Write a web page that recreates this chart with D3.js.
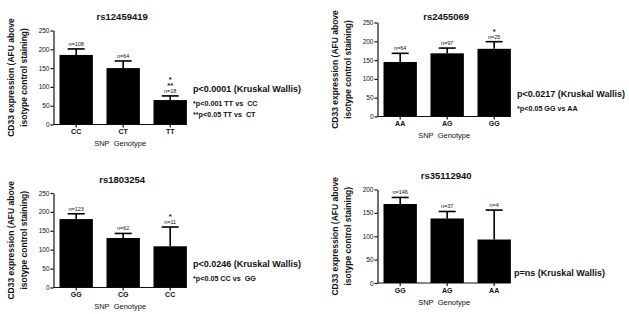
<!DOCTYPE html>
<html>
<head>
  <meta charset="utf-8">
  <title>CD33 expression by SNP genotype</title>
  <script src="https://d3js.org/d3.v7.min.js"></script>
  <style>
    body { margin: 0; background: #fff; }
    svg { display: block; font-family: "Liberation Sans", Arial, sans-serif; }
  </style>
</head>
<body>
  <svg id="chart" width="629" height="314"></svg>

  <script>
    // values
    let titles = ["rs12459419", "rs2455069", "rs1803254", "rs35112940"];
    let genotypes = [["CC", "CT", "TT"], ["AA", "AG", "GG"], ["GG", "CG", "CC"], ["GG", "AG", "AA"]];
    let means = [[185, 150, 65], [145, 168, 180], [181, 131, 109], [169, 138, 93]];
    let upperErr = [[201, 169, 76], [168, 182, 199], [195, 143, 160], [183, 153, 156]];
    let nCounts = [[108, 64, 18], [64, 97, 25], [123, 62, 11], [146, 37, 4]];
    let stars = [["", "", "*|**"], ["", "", "*"], ["", "", "*"], ["", "", ""]];
    let yMax = [250, 250, 250, 200];
    let yTicks = [[0, 50, 100, 150, 200, 250], [0, 50, 100, 150, 200, 250], [0, 50, 100, 150, 200, 250], [0, 50, 100, 150, 200]];
    let kruskal = ["p<0.0001 (Kruskal Wallis)", "p<0.0217 (Kruskal Wallis)", "p<0.0246 (Kruskal Wallis)", "p=ns (Kruskal Wallis)"];
    let postHoc = [["*p<0.001 TT vs  CC", "**p<0.05 TT vs  CT"], ["*p<0.05 GG vs AA"], ["*p<0.05 CC vs  GG"], []];

    // where each panel sits: y axis x, top/bottom of the y axis, title and text positions
    let panels = [
      {x0: 53.5, top: 30.5, bottom: 124.5, titleY: 19.5, textX: 193, textY: 92},
      {x0: 377.5, top: 22.5, bottom: 116.5, titleY: 19.5, textX: 517, textY: 97},
      {x0: 53.5, top: 193, bottom: 287.5, titleY: 182.5, textX: 193, textY: 267},
      {x0: 377.5, top: 189.5, bottom: 283, titleY: 179, textX: 514, textY: 276}
    ];

    let svg = d3.select("#chart");
    let ink = "#111";

    panels.forEach(function(p, i) {
      let g = svg.append("g");
      let step = 47;
      let first = p.x0 + 6;
      let x = d3.scaleBand()
                .domain(genotypes[i])
                .range([first, first + 3 * step - 0.29 * step])
                .paddingInner(0.29)
                .paddingOuter(0);
      let y = d3.scaleLinear()
                .domain([0, yMax[i]])
                .range([p.bottom, p.top]);
      let xEnd = x(genotypes[i][2]) + x.bandwidth();

      // y axis
      let yAxis = g.append("g")
         .attr("transform", "translate(" + p.x0 + ",0)")
         .call(d3.axisLeft(y).tickValues(yTicks[i]).tickSize(3).tickSizeOuter(0));
      yAxis.select(".domain").attr("stroke", ink).attr("stroke-width", 1.2);
      yAxis.selectAll(".tick line").attr("stroke", ink).attr("stroke-width", 1.2);
      yAxis.selectAll("text").attr("font-size", "6.5px").attr("fill", ink).attr("x", -4);

      // x axis
      let xAxis = g.append("g")
         .attr("transform", "translate(0," + p.bottom + ")")
         .call(d3.axisBottom(x).tickSize(3).tickSizeOuter(0));
      xAxis.select(".domain").remove();
      xAxis.selectAll(".tick line").attr("stroke", ink).attr("stroke-width", 1.2);
      xAxis.selectAll("text").attr("font-size", "7px").attr("font-weight", "bold").attr("fill", ink).attr("y", 5);
      g.append("line")
         .attr("x1", p.x0).attr("x2", xEnd)
         .attr("y1", p.bottom).attr("y2", p.bottom)
         .attr("stroke", ink).attr("stroke-width", 1.2);

      // bars
      g.selectAll(".bar")
         .data(genotypes[i])
         .enter()
         .append("rect")
         .attr("class", "bar")
         .attr("x", function(d) { return x(d); })
         .attr("width", x.bandwidth())
         .attr("y", function(d, j) { return y(means[i][j]); })
         .attr("height", function(d, j) { return p.bottom - y(means[i][j]); })
         .attr("fill", "#000");

      // upper error bars, n labels and stars
      genotypes[i].forEach(function(d, j) {
        let cx = x(d) + x.bandwidth() / 2;
        let cap = y(upperErr[i][j]);
        g.append("line")
           .attr("x1", cx).attr("x2", cx)
           .attr("y1", y(means[i][j])).attr("y2", cap)
           .attr("stroke", "#000").attr("stroke-width", 1.6);
        g.append("line")
           .attr("x1", cx - 8.5).attr("x2", cx + 8.5)
           .attr("y1", cap).attr("y2", cap)
           .attr("stroke", "#000").attr("stroke-width", 1.6);
        g.append("text")
           .attr("x", cx).attr("y", cap - 3)
           .attr("text-anchor", "middle")
           .attr("font-size", "5.5px").attr("fill", ink)
           .text("n=" + nCounts[i][j]);
        let s = stars[i][j] ? stars[i][j].split("|") : [];
        s.reverse().forEach(function(t, k) {
          g.append("text")
             .attr("x", cx).attr("y", cap - 8 - 6 * k)
             .attr("text-anchor", "middle")
             .attr("font-size", "7.5px").attr("font-weight", "bold").attr("fill", ink)
             .text(t);
        });
      });

      // titles
      let midX = (p.x0 + xEnd) / 2;
      g.append("text")
         .attr("x", midX + 2).attr("y", p.titleY)
         .attr("text-anchor", "middle")
         .attr("font-size", "9.5px").attr("font-weight", "bold").attr("fill", ink)
         .text(titles[i]);
      g.append("text")
         .attr("x", midX).attr("y", p.bottom + 21.5)
         .attr("text-anchor", "middle")
         .attr("font-size", "7.5px").attr("fill", ink)
         .attr("xml:space", "preserve")
         .text("SNP  Genotype");

      // y axis label, two lines
      let midY = (p.top + p.bottom) / 2;
      ["CD33 expression (AFU above", "isotype control staining)"].forEach(function(t, k) {
        g.append("text")
           .attr("transform", "translate(" + (p.x0 - 40 + 13 * k) + "," + midY + ") rotate(-90)")
           .attr("text-anchor", "middle")
           .attr("font-size", "8.5px").attr("font-weight", "bold").attr("fill", ink)
           .text(t);
      });

      // statistics
      g.append("text")
         .attr("x", p.textX).attr("y", p.textY)
         .attr("font-size", "9px").attr("font-weight", "bold").attr("fill", ink)
         .text(kruskal[i]);
      postHoc[i].forEach(function(t, k) {
        g.append("text")
           .attr("x", p.textX).attr("y", p.textY + 13.5 + 11 * k)
           .attr("font-size", "7.2px").attr("font-weight", "bold").attr("fill", ink)
           .attr("xml:space", "preserve")
           .text(t);
      });
    });
  </script>
</body>
</html>
